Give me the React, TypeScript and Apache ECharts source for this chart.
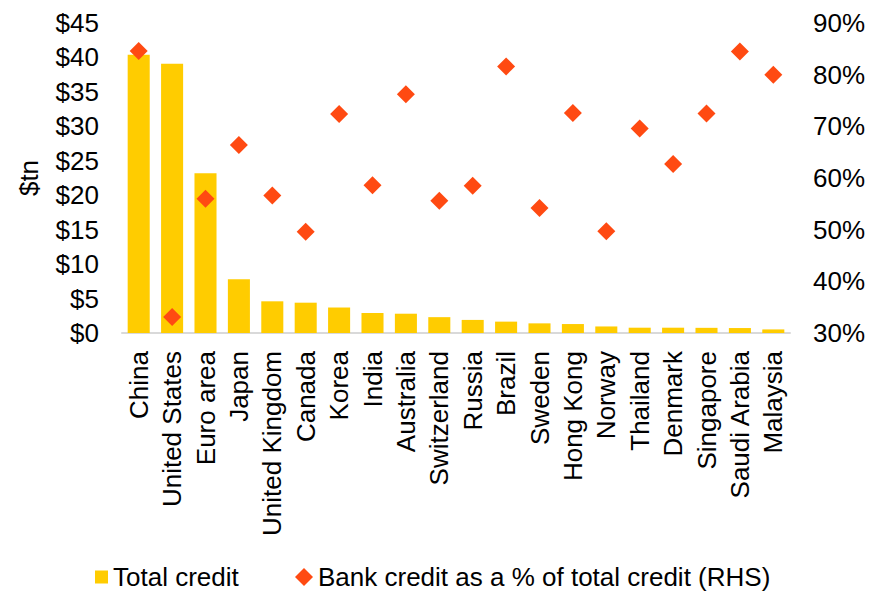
import React, { useEffect, useRef } from "react";
import * as echarts from "echarts";

const categories = [
  "China", "United States", "Euro area", "Japan", "United Kingdom", "Canada", "Korea", "India",
  "Australia", "Switzerland", "Russia", "Brazil", "Sweden", "Hong Kong", "Norway", "Thailand",
  "Denmark", "Singapore", "Saudi Arabia", "Malaysia",
];
const totalCredit = [40.4, 39.1, 23.2, 7.8, 4.6, 4.4, 3.7, 2.9, 2.8, 2.3, 1.9, 1.65, 1.4, 1.3, 0.95, 0.77, 0.77, 0.75, 0.72, 0.52];
const bankShare = [84.6, 33.1, 56.0, 66.4, 56.6, 49.6, 72.4, 58.6, 76.2, 55.6, 58.5, 81.6, 54.2, 72.6, 49.7, 69.6, 62.7, 72.5, 84.5, 80.0];
const leftTicks = { min: 0, max: 45, interval: 5 };
const rightTicks = { min: 30, max: 90, interval: 10 };

const FONT = "'Liberation Sans', Arial, sans-serif";
const FS = 26;
const YELLOW = "#FFCC00";
const RED = "#FF4A12";

export default function App() {
  const ref = useRef<HTMLDivElement>(null);
  useEffect(() => {
    document.body.style.margin = "0";
    if (!ref.current) return;
    const chart = echarts.init(ref.current, undefined, { renderer: "svg" });
    chart.setOption({
      animation: false,
      textStyle: { fontFamily: FONT, color: "#000" },
      grid: { left: 122, right: 98, top: 23, bottom: 259 },
      legend: [
        {
          data: [{ name: "Total credit", icon: "rect" }],
          left: 95,
          top: 564,
          padding: 0,
          itemWidth: 13,
          itemHeight: 13,
          textStyle: { fontFamily: FONT, fontSize: FS, color: "#000" },
        },
        {
          data: [{ name: "Bank credit as a % of total credit (RHS)", icon: "diamond" }],
          left: 295,
          top: 564,
          padding: 0,
          itemWidth: 18,
          itemHeight: 18,
          textStyle: { fontFamily: FONT, fontSize: FS, color: "#000" },
        },
      ],
      xAxis: {
        type: "category",
        data: categories,
        axisLine: { show: true, lineStyle: { color: "#D9D9D9", width: 2 } },
        axisTick: { show: false },
        axisLabel: {
          interval: 0,
          rotate: 90,
          margin: 18,
          fontSize: FS,
          fontFamily: FONT,
          color: "#000",
        },
      },
      yAxis: [
        {
          type: "value",
          ...leftTicks,
          name: "$tn",
          nameLocation: "middle",
          nameGap: 80,
          nameRotate: 90,
          nameTextStyle: { fontSize: FS, fontFamily: FONT, color: "#000" },
          axisLine: { show: false },
          axisTick: { show: false },
          splitLine: { show: false },
          axisLabel: {
            margin: 23,
            fontSize: FS,
            fontFamily: FONT,
            color: "#000",
            formatter: (v: number) => "$" + v,
          },
        },
        {
          type: "value",
          ...rightTicks,
          position: "right",
          axisLine: { show: false },
          axisTick: { show: false },
          splitLine: { show: false },
          axisLabel: {
            margin: 23,
            fontSize: FS,
            fontFamily: FONT,
            color: "#000",
            formatter: (v: number) => v + "%",
          },
        },
      ],
      series: [
        {
          name: "Total credit",
          type: "bar",
          data: totalCredit,
          yAxisIndex: 0,
          barCategoryGap: "34%",
          itemStyle: { color: YELLOW },
        },
        {
          name: "Bank credit as a % of total credit (RHS)",
          type: "scatter",
          data: bankShare,
          yAxisIndex: 1,
          symbol: "diamond",
          symbolSize: [18, 18],
          itemStyle: { color: RED, opacity: 1 },
          z: 5,
        },
      ],
    });
    return () => chart.dispose();
  }, []);
  return <div ref={ref} style={{ width: 888, height: 592 }} />;
}
